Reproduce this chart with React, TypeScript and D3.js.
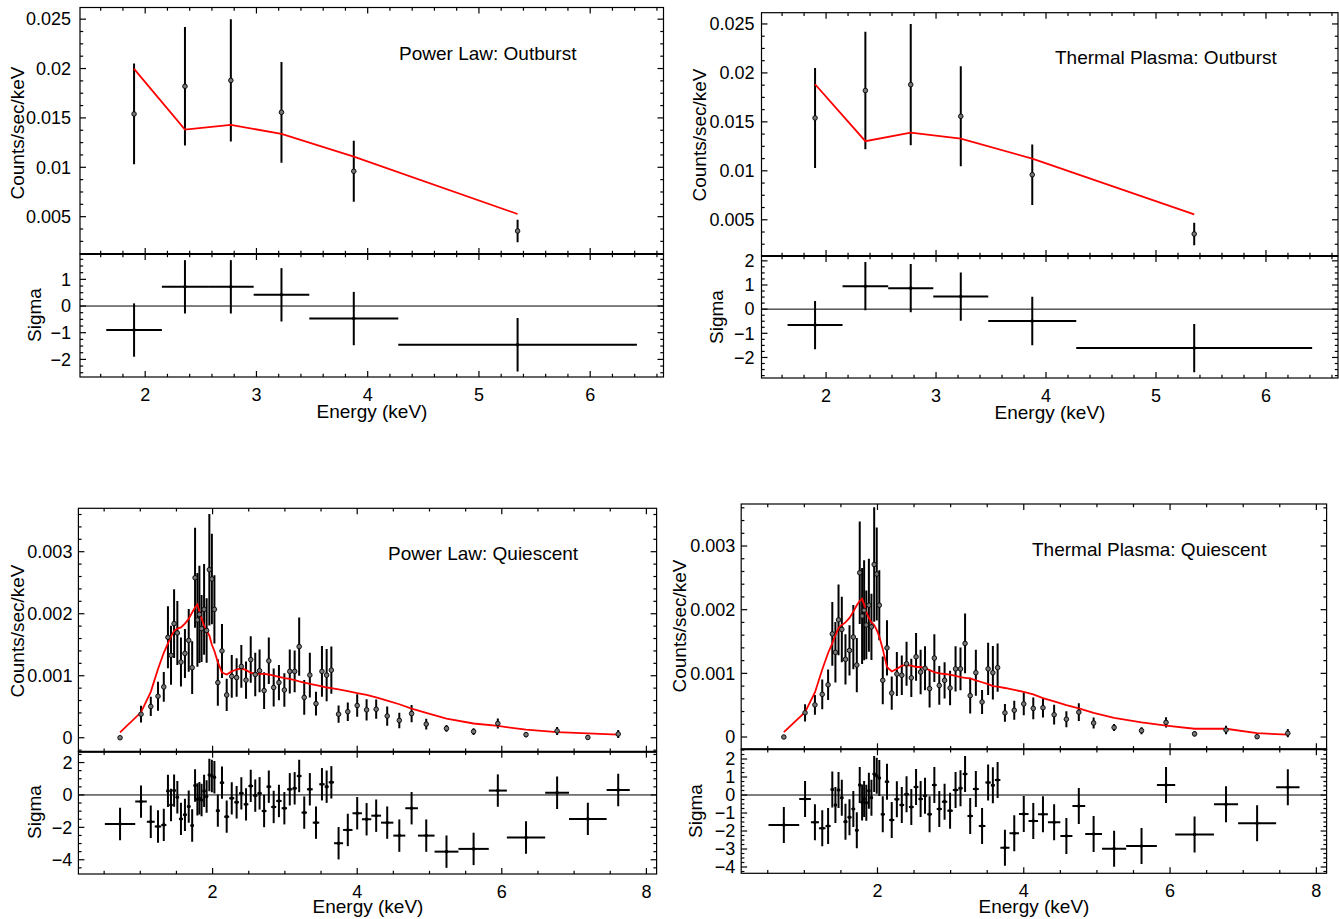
import React from "react";
import * as d3 from "d3";

// ---------- outburst spectra (6 bins) ----------
const outEdges = [1.65, 2.15, 2.565, 2.975, 3.475, 4.275, 6.42];
const outRate = [0.0154, 0.0182, 0.0188, 0.01557, 0.0096, 0.00355];
const outErr = [0.0051, 0.006, 0.0062, 0.0051, 0.0031, 0.00115];
const outModelPL = [0.01996, 0.01382, 0.0143, 0.01338, 0.01108, 0.00527];
const outModelTP = [0.01884, 0.01303, 0.01391, 0.0133, 0.01124, 0.00556];
const outResPL = [-0.9, 0.72, 0.72, 0.42, -0.47, -1.45];
const outResTP = [-0.66, 0.95, 0.87, 0.52, -0.49, -1.61];

// ---------- quiescent spectra (62 bins), rates in 1e-3 counts/sec/keV ----------
const qEdges = [
  0.51, 0.93, 1.09, 1.2, 1.29, 1.36, 1.405, 1.445, 1.49, 1.535, 1.59, 1.645, 1.695,
  1.74, 1.775, 1.805, 1.83, 1.865, 1.9, 1.935, 1.975, 2.005, 2.045, 2.1, 2.16, 2.23,
  2.3, 2.365, 2.43, 2.495, 2.56, 2.62, 2.68, 2.745, 2.81, 2.88, 2.955, 3.03, 3.105,
  3.165, 3.23, 3.305, 3.385, 3.475, 3.55, 3.605, 3.68, 3.805, 3.935, 4.065, 4.195,
  4.33, 4.5, 4.665, 4.84, 5.07, 5.4, 5.82, 6.07, 6.6, 6.93, 7.45, 7.77,
];
const qRate = [
  0.0, 0.38, 0.505, 0.67, 0.82, 1.62, 1.33, 1.84, 1.69, 1.22, 1.36, 1.57, 1.13, 2.58,
  1.9, 1.99, 1.76, 2.07, 1.73, 2.71, 2.56, 2.07, 0.89, 1.4, 0.69, 0.99, 0.97, 1.15,
  0.93, 1.26, 1.02, 1.08, 0.76, 1.24, 0.81, 0.89, 0.77, 1.07, 1.07, 1.47, 0.65, 1.01,
  0.55, 1.07, 1.01, 1.09, 0.38, 0.42, 0.52, 0.45, 0.46, 0.35, 0.28, 0.39, 0.22, 0.15,
  0.1, 0.23, 0.05, 0.11, 0.005, 0.06,
];
const qErr = [
  0.02, 0.135, 0.155, 0.235, 0.24, 0.5, 0.475, 0.555, 0.515, 0.395, 0.395, 0.505,
  0.425, 0.805, 0.755, 0.785, 0.54, 0.73, 0.52, 0.9, 0.73, 0.55, 0.375, 0.435, 0.26,
  0.345, 0.31, 0.345, 0.3, 0.375, 0.35, 0.345, 0.295, 0.375, 0.305, 0.285, 0.27,
  0.355, 0.335, 0.47, 0.28, 0.36, 0.19, 0.41, 0.42, 0.38, 0.14, 0.15, 0.18, 0.17,
  0.155, 0.155, 0.125, 0.14, 0.085, 0.055, 0.055, 0.08, 0.04, 0.065, 0.03, 0.065,
];
const qModelPL = [
  0.087, 0.41, 0.74, 1.11, 1.37, 1.52, 1.63, 1.72, 1.76, 1.78, 1.84, 1.92, 2.02, 2.1,
  2.15, 2.04, 1.92, 1.81, 1.72, 1.65, 1.5, 1.4, 1.22, 1.05, 1.02, 1.07, 1.1, 1.12,
  1.09, 1.05, 1.03, 1.03, 1.03, 1.02, 1.0, 0.98, 0.96, 0.95, 0.93, 0.91, 0.89, 0.87,
  0.85, 0.83, 0.81, 0.8, 0.78, 0.75, 0.72, 0.69, 0.65, 0.6, 0.54, 0.47, 0.4, 0.31,
  0.23, 0.19, 0.13, 0.09, 0.07, 0.05,
];
const qModelTP = [
  0.078, 0.39, 0.7, 1.06, 1.32, 1.47, 1.6, 1.71, 1.76, 1.8, 1.87, 1.97, 2.07, 2.14,
  2.17, 2.08, 1.96, 1.87, 1.8, 1.76, 1.68, 1.58, 1.38, 1.1, 1.03, 1.07, 1.12, 1.13,
  1.12, 1.1, 1.1, 1.08, 1.05, 1.02, 1.0, 0.99, 0.98, 0.96, 0.94, 0.93, 0.92, 0.89,
  0.86, 0.83, 0.8, 0.79, 0.77, 0.74, 0.71, 0.67, 0.61, 0.56, 0.5, 0.45, 0.38, 0.3,
  0.23, 0.18, 0.13, 0.13, 0.06, 0.036,
];
const qResPL = [
  -1.79, -0.41, -1.65, -1.95, -1.85, 0.25, -0.62, 0.27, -0.14, -1.48, -1.23, -0.72,
  -1.89, 0.58, -0.27, -0.2, -0.31, 0.25, -0.1, 1.23, 1.17, 1.09, -0.97, 0.76, -1.34,
  -0.21, -0.45, 0.1, -0.58, 0.56, -0.04, 0.1, -0.99, 0.51, -0.74, -0.37, -0.82, 0.35,
  0.41, 1.17, -1.09, 0.35, -1.71, 0.66, 0.51, 0.78, -2.98, -2.16, -1.13, -1.5, -1.28,
  -1.71, -2.51, -0.82, -2.51, -3.5, -3.33, 0.27, -2.63, 0.14, -1.48, 0.31,
];
const qResTP = [
  -1.67, -0.22, -1.52, -1.85, -1.72, 0.31, -0.56, 0.28, -0.15, -1.48, -1.24, -0.78,
  -1.96, 0.56, -0.41, -0.22, -0.43, 0.24, -0.15, 1.17, 1.07, 0.94, -1.07, 0.74, -1.39,
  -0.24, -0.56, 0.04, -0.67, 0.44, -0.22, -0.04, -1.07, 0.56, -0.78, -0.37, -0.87,
  0.28, 0.37, 1.17, -1.17, 0.33, -1.72, 0.69, 0.54, 0.83, -2.93, -2.13, -1.06, -1.44,
  -1.07, -1.52, -2.28, -0.61, -2.17, -2.98, -2.83, 0.56, -2.19, -0.52, -1.57, 0.43,
];

// ---------- tick values ----------
const outXTicks = [2, 3, 4, 5, 6];
const qXTicks = [2, 4, 6, 8];
const outYTicks = [0.005, 0.01, 0.015, 0.02, 0.025];
const qYTicks = [0, 0.001, 0.002, 0.003];
const resTicksTL = [-2, -1, 0, 1];
const resTicksTR = [-2, -1, 0, 1, 2];
const resTicksBL = [-4, -2, 0, 2];
const resTicksBR = [-4, -3, -2, -1, 0, 1, 2];

const FONT = "'Liberation Sans', Arial, Helvetica, sans-serif";
const fmt = d3.format("~g");

function minors(dom: number[], step: number) {
  const out: number[] = [];
  const start = Math.ceil(dom[0] / step - 1e-6);
  for (let k = start; k * step <= dom[1] + 1e-9; k++) out.push(+(k * step).toFixed(6));
  return out;
}

type Cfg = {
  id: string;
  x0: number; x1: number; yTop: number; yMid: number; yBot: number;
  xDom: number[]; specDom: number[]; resDom: number[];
  xTicks: number[]; xMinor: number;
  yTicks: number[]; yMinor: number;
  rTicks: number[]; rMinor: number;
  edges: number[]; rate: number[]; err: number[]; model: number[]; res: number[];
  title: string; titleX: number; titleY: number;
  countsX: number; countsY: number; sigmaX: number; sigmaY: number;
  energyX: number; energyY: number; gap: number;
};

function Panel({ c }: { c: Cfg }) {
  const x = d3.scaleLinear().domain(c.xDom).range([c.x0, c.x1]);
  const ys = d3.scaleLinear().domain(c.specDom).range([c.yMid, c.yTop]);
  const yr = d3.scaleLinear().domain(c.resDom).range([c.yBot, c.yMid]);
  const centers = c.rate.map((_, i) => (c.edges[i] + c.edges[i + 1]) / 2);
  const model = d3
    .line<number>()
    .x((_, i) => x(centers[i]))
    .y((d) => ys(d));

  const M = 6;
  const m = 3.2;
  const ticks: JSX.Element[] = [];
  let k = 0;
  const tk = (x1: number, y1: number, x2: number, y2: number) =>
    ticks.push(<line key={k++} x1={x1} y1={y1} x2={x2} y2={y2} />);

  // x ticks on the four horizontal edges
  for (const v of minors(c.xDom, c.xMinor)) {
    const len = c.xTicks.some((t) => Math.abs(t - v) < 1e-6) ? M : m;
    const px = x(v);
    tk(px, c.yTop, px, c.yTop + len);
    tk(px, c.yMid, px, c.yMid - len);
    tk(px, c.yMid, px, c.yMid + len);
    tk(px, c.yBot, px, c.yBot - len);
  }
  for (const v of minors(c.specDom, c.yMinor)) {
    const len = c.yTicks.some((t) => Math.abs(t - v) < 1e-9) ? M : m;
    const py = ys(v);
    tk(c.x0, py, c.x0 + len, py);
    tk(c.x1, py, c.x1 - len, py);
  }
  for (const v of minors(c.resDom, c.rMinor)) {
    const len = c.rTicks.some((t) => Math.abs(t - v) < 1e-6) ? M : m;
    const py = yr(v);
    tk(c.x0, py, c.x0 + len, py);
    tk(c.x1, py, c.x1 - len, py);
  }

  return (
    <g fontFamily={FONT} fill="#000">
      <defs>
        <clipPath id={`spec-${c.id}`}>
          <rect x={c.x0} y={c.yTop} width={c.x1 - c.x0} height={c.yMid - c.yTop} />
        </clipPath>
        <clipPath id={`res-${c.id}`}>
          <rect x={c.x0} y={c.yMid} width={c.x1 - c.x0} height={c.yBot - c.yMid} />
        </clipPath>
      </defs>

      {/* spectrum */}
      <g clipPath={`url(#spec-${c.id})`}>
        {c.rate.map((v, i) => (
          <line
            key={i}
            x1={x(centers[i])}
            x2={x(centers[i])}
            y1={ys(v - c.err[i])}
            y2={ys(v + c.err[i])}
            stroke="#000"
            strokeWidth={2}
          />
        ))}
        <path d={model(c.model) || ""} fill="none" stroke="#f00" strokeWidth={1.8} />
        {c.rate.map((v, i) => (
          <circle key={i} cx={x(centers[i])} cy={ys(v)} r={2.3} fill="#777" stroke="#000" strokeWidth={0.9} />
        ))}
      </g>

      {/* residuals */}
      <g clipPath={`url(#res-${c.id})`}>
        <line x1={c.x0} x2={c.x1} y1={yr(0)} y2={yr(0)} stroke="#000" strokeWidth={1} />
        {c.res.map((v, i) => (
          <g key={i} stroke="#000" strokeWidth={2}>
            <line x1={x(c.edges[i])} x2={x(c.edges[i + 1])} y1={yr(v)} y2={yr(v)} />
            <line x1={x(centers[i])} x2={x(centers[i])} y1={yr(v - 1)} y2={yr(v + 1)} />
          </g>
        ))}
        {c.res.map((v, i) => (
          <circle key={i} cx={x(centers[i])} cy={yr(v)} r={1.8} fill="#000" />
        ))}
      </g>

      {/* frames and ticks */}
      <g stroke="#000" strokeWidth={1.2} fill="none">
        <rect x={c.x0} y={c.yTop} width={c.x1 - c.x0} height={c.yMid - c.yTop} />
        <rect x={c.x0} y={c.yMid} width={c.x1 - c.x0} height={c.yBot - c.yMid} />
        <line x1={c.x0} x2={c.x1} y1={c.yMid} y2={c.yMid} strokeWidth={2} />
        {ticks}
      </g>

      {/* tick labels */}
      <g fontSize={18}>
        {c.xTicks.map((t) => (
          <text key={t} x={x(t)} y={c.yBot + 24} textAnchor="middle">
            {fmt(t)}
          </text>
        ))}
        {c.yTicks.map((t) => (
          <text key={t} x={c.x0 - c.gap} y={ys(t)} dy="0.35em" textAnchor="end">
            {fmt(t)}
          </text>
        ))}
        {c.rTicks.map((t) => (
          <text key={t} x={c.x0 - c.gap} y={yr(t)} dy="0.35em" textAnchor="end">
            {fmt(t)}
          </text>
        ))}
      </g>

      {/* axis titles */}
      <g fontSize={19}>
        <text x={c.titleX} y={c.titleY} dy="0.35em">
          {c.title}
        </text>
        <text
          transform={`translate(${c.countsX},${c.countsY}) rotate(-90)`}
          textAnchor="middle"
          dy="0.35em"
        >
          Counts/sec/keV
        </text>
        <text
          transform={`translate(${c.sigmaX},${c.sigmaY}) rotate(-90)`}
          textAnchor="middle"
          dy="0.35em"
        >
          Sigma
        </text>
        <text x={c.energyX} y={c.energyY} textAnchor="middle">
          Energy (keV)
        </text>
      </g>
    </g>
  );
}

const panels: Cfg[] = [
  {
    id: "tl", x0: 80, x1: 663.5, yTop: 7.5, yMid: 254, yBot: 377,
    xDom: [1.414, 6.659], specDom: [0.00122, 0.02618], resDom: [-2.66, 1.95],
    xTicks: outXTicks, xMinor: 0.2, yTicks: outYTicks, yMinor: 0.00125,
    rTicks: resTicksTL, rMinor: 0.25,
    edges: outEdges, rate: outRate, err: outErr, model: outModelPL, res: outResPL,
    title: "Power Law: Outburst", titleX: 399, titleY: 53,
    countsX: 17, countsY: 133, sigmaX: 34, sigmaY: 315, energyX: 372, energyY: 418, gap: 9,
  },
  {
    id: "tr", x0: 761.5, x1: 1338, yTop: 12.7, yMid: 256, yBot: 378,
    xDom: [1.413, 6.655], specDom: [0.0013, 0.02615], resDom: [-2.85, 2.2],
    xTicks: outXTicks, xMinor: 0.2, yTicks: outYTicks, yMinor: 0.00125,
    rTicks: resTicksTR, rMinor: 0.25,
    edges: outEdges, rate: outRate, err: outErr, model: outModelTP, res: outResTP,
    title: "Thermal Plasma: Outburst", titleX: 1055, titleY: 57,
    countsX: 699, countsY: 135, sigmaX: 716, sigmaY: 317, energyX: 1050, energyY: 419, gap: 7,
  },
  {
    id: "bl", x0: 78.4, x1: 656.6, yTop: 508.3, yMid: 751.7, yBot: 874,
    xDom: [0.144, 8.141], specDom: [-0.000225, 0.0037], resDom: [-4.88, 2.67],
    xTicks: qXTicks, xMinor: 0.5, yTicks: qYTicks, yMinor: 0.0002,
    rTicks: resTicksBL, rMinor: 0.5,
    edges: qEdges, rate: qRate.map((v) => v * 1e-3), err: qErr.map((v) => v * 1e-3),
    model: qModelPL.map((v) => v * 1e-3), res: qResPL,
    title: "Power Law: Quiescent", titleX: 388, titleY: 553,
    countsX: 17, countsY: 631, sigmaX: 34, sigmaY: 812, energyX: 368, energyY: 913, gap: 6,
  },
  {
    id: "br", x0: 741.2, x1: 1326.6, yTop: 504, yMid: 749.3, yBot: 873.3,
    xDom: [0.137, 8.14], specDom: [-0.000193, 0.00366], resDom: [-4.35, 2.54],
    xTicks: qXTicks, xMinor: 0.5, yTicks: qYTicks, yMinor: 0.0002,
    rTicks: resTicksBR, rMinor: 0.25,
    edges: qEdges, rate: qRate.map((v) => v * 1e-3), err: qErr.map((v) => v * 1e-3),
    model: qModelTP.map((v) => v * 1e-3), res: qResTP,
    title: "Thermal Plasma: Quiescent", titleX: 1032, titleY: 549,
    countsX: 679, countsY: 626, sigmaX: 695, sigmaY: 811, energyX: 1034, energyY: 913, gap: 6,
  },
];

export default function App() {
  return (
    <svg
      width={1339}
      height={919}
      viewBox="0 0 1339 919"
      style={{ position: "absolute", left: 0, top: 0, background: "#fff" }}
    >
      {panels.map((p) => (
        <Panel key={p.id} c={p} />
      ))}
    </svg>
  );
}
